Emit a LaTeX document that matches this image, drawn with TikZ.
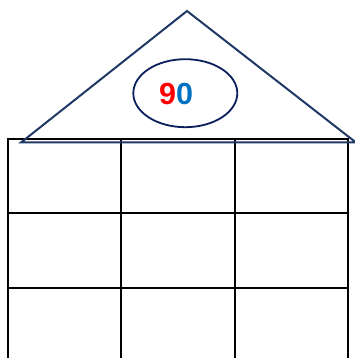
\documentclass[tikz,border=0pt]{standalone}
\usepackage{fontspec}
\setmainfont{Liberation Sans}
\usetikzlibrary{shapes.geometric}
\definecolor{roofblue}{HTML}{1F3864}
\definecolor{ovalblue}{HTML}{0A1F5C}
\definecolor{nine}{HTML}{FF0000}
\definecolor{zero}{HTML}{0070C0}
\tikzset{
  gridline/.style={line width=2pt, black},
  roof/.style={line width=2pt, roofblue, line join=miter},
  oval/.style={ellipse, draw=ovalblue, line width=1.8pt, minimum width=104pt, minimum height=68pt, inner sep=0pt},
  num/.style={font=\fontsize{30.5}{30.5}\selectfont\bfseries, inner sep=0pt, anchor=base}
}
\begin{document}
\begin{tikzpicture}[x=1pt,y=-1pt]
\useasboundingbox (0,0) rectangle (355,358);
\begin{scope}
\clip (0,0) rectangle (355,358);
% grid
\foreach \x in {8,121,235,348} \draw[gridline] (\x,139) -- (\x,365);
\foreach \y in {139,213,288} \draw[gridline] (7,\y) -- (349,\y);
% roof
\coordinate (apex) at (187,11);
\coordinate (bl) at (21,142.5);
\coordinate (br) at (356,142.5);
\draw[roof] (bl) -- (apex) -- (br) -- cycle;
\end{scope}
\node[oval] (oval) at (185.3,93.2) {};
\node[num] (num) at (176,105) {\textcolor{nine}{9}\textcolor{zero}{0}};
\end{tikzpicture}
\end{document}
